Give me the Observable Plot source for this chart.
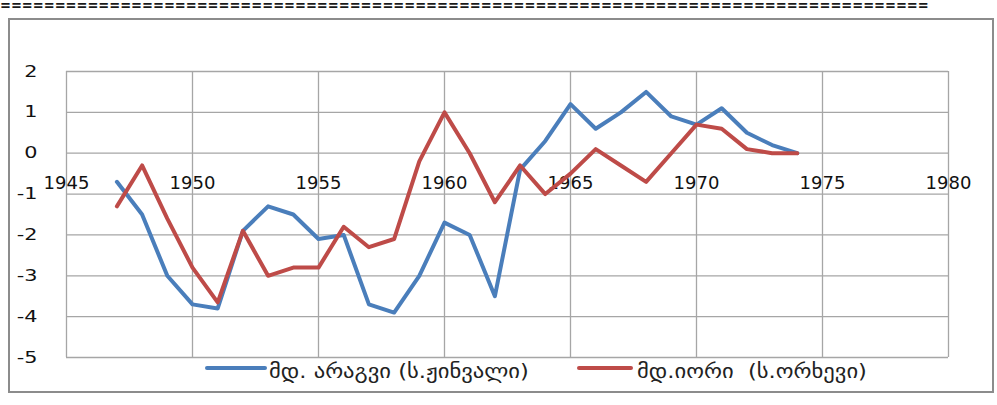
<!DOCTYPE html>
<html><head><meta charset="utf-8">
<script src="https://cdn.jsdelivr.net/npm/d3@7"></script>
<script src="https://cdn.jsdelivr.net/npm/@observablehq/plot@0.6"></script>
<style>
body{margin:0;background:#fff;width:997px;height:405px;overflow:hidden;position:relative;font-family:"DejaVu Sans",sans-serif;}
#eq{position:absolute;left:0;top:0;font-size:16px;font-weight:bold;line-height:10px;height:10px;white-space:nowrap;color:#1a1a1a;transform:scaleX(0.815);transform-origin:0 0;}
#frame{position:absolute;left:8px;top:18px;width:986px;height:375px;border:2.5px solid #8c8c8c;box-sizing:border-box;}
#chart{position:absolute;left:0;top:0;}
#legend{position:absolute;left:0;top:357px;height:28px;width:997px;font-size:20px;color:#222;}
.sw{position:absolute;top:9px;height:4px;border-radius:2px;}
.lt{position:absolute;top:0;white-space:pre;line-height:28px;transform:scaleX(1.13);transform-origin:0 50%;}
</style></head>
<body>
<div id="eq"></div>
<div id="frame"></div>
<div id="chart"></div>
<div id="legend"></div>
<script>
const years = [1947,1948,1949,1950,1951,1952,1953,1954,1955,1956,1957,1958,1959,1960,1961,1962,1963,1964,1965,1966,1967,1968,1969,1970,1971,1972,1973,1974];
const aragvi = [-0.7,-1.5,-3.0,-3.7,-3.8,-1.9,-1.3,-1.5,-2.1,-2.0,-3.7,-3.9,-3.0,-1.7,-2.0,-3.5,-0.4,0.3,1.2,0.6,1.0,1.5,0.9,0.7,1.1,0.5,0.2,0.0];
const iori = [-1.3,-0.3,-1.6,-2.8,-3.65,-1.9,-3.0,-2.8,-2.8,-1.8,-2.3,-2.1,-0.2,1.0,0.0,-1.2,-0.3,-1.0,-0.5,0.1,-0.3,-0.7,0.0,0.7,0.6,0.1,0.0,0.0];
const xTicks = [1945,1950,1955,1960,1965,1970,1975,1980];
const yTicks = [-5,-4,-3,-2,-1,0,1,2];
const seriesNames = ["მდ. არაგვი (ს.ჟინვალი)", "მდ.იორი  (ს.ორხევი)"];
const colors = ["#4A7EBB", "#BE4B48"];

const rows = [];
years.forEach((yr, i) => {
  rows.push({year: yr, value: aragvi[i], series: seriesNames[0]});
  rows.push({year: yr, value: iori[i], series: seriesNames[1]});
});

document.getElementById("eq").textContent = "=".repeat(85);

const grid = "#a6a6a6";
const plot = Plot.plot({
  width: 997, height: 405,
  marginLeft: 66, marginRight: 49, marginTop: 71, marginBottom: 48,
  x: {domain: [1945, 1980], axis: null},
  y: {domain: [-5, 2]},
  color: {domain: seriesNames, range: colors},
  style: {fontFamily: "DejaVu Sans", background: "transparent", color: "#111"},
  marks: [
    Plot.gridX(xTicks, {stroke: grid, strokeOpacity: 1, strokeWidth: 1.3}),
    Plot.gridY(yTicks, {stroke: grid, strokeOpacity: 1, strokeWidth: 1.3}),
    Plot.axisY(yTicks, {tickSize: 0, tickPadding: 29, fontSize: 16, label: null, tickFormat: d => String(d)}),
    Plot.text(xTicks, {x: d => d, y: 0, dy: 30, text: d => String(d), fontSize: 18, fill: "#111", ariaLabel: "xlab"}),
    Plot.line(rows, {x: "year", y: "value", z: "series", stroke: "series", strokeWidth: 4, strokeLinejoin: "round", strokeLinecap: "round"})
  ]
});
document.getElementById("chart").appendChild(plot);

// horizontal stretch of the labels, as in the reference
d3.select(plot).selectAll('g[aria-label="xlab"] text').each(function(){
  const l = this.getComputedTextLength();
  d3.select(this).attr("textLength", l * 1.27).attr("lengthAdjust", "spacingAndGlyphs");
});
d3.select(plot).selectAll('g[aria-label="y-axis tick label"] text').each(function(){
  const l = this.getComputedTextLength();
  d3.select(this).attr("textLength", l * 1.3).attr("lengthAdjust", "spacingAndGlyphs");
});

const legend = document.getElementById("legend");
const lx = [[205, 62, 269], [577, 56, 637]];
seriesNames.forEach((n, i) => {
  const sw = document.createElement("div");
  sw.className = "sw"; sw.style.left = lx[i][0] + "px"; sw.style.width = lx[i][1] + "px"; sw.style.background = colors[i];
  legend.appendChild(sw);
  const t = document.createElement("div");
  t.className = "lt"; t.style.left = lx[i][2] + "px"; t.textContent = n;
  legend.appendChild(t);
});
</script>
</body></html>
